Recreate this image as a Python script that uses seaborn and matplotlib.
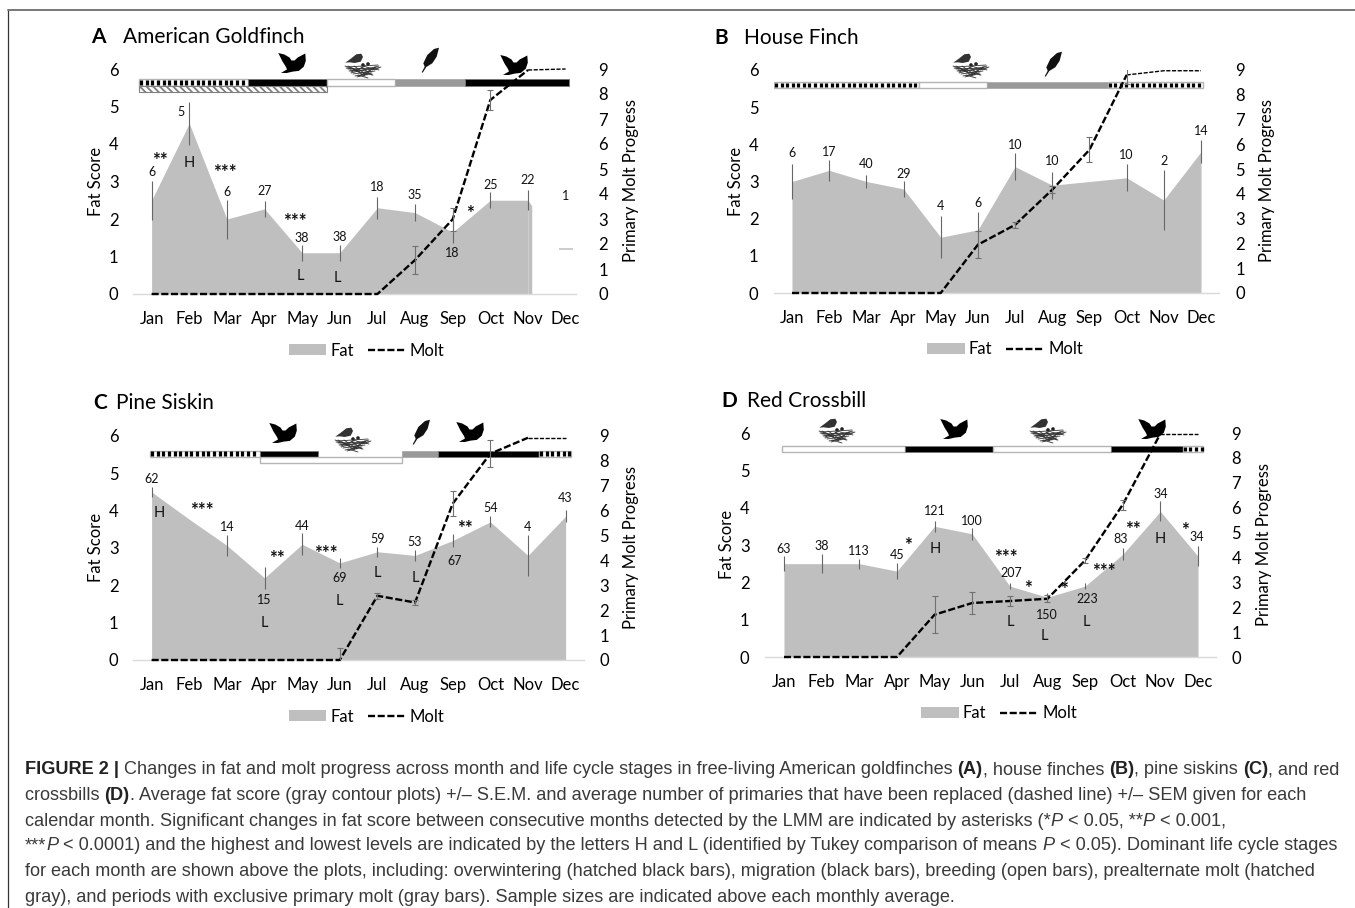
import numpy as np
import matplotlib
matplotlib.use('Agg')
import matplotlib.pyplot as plt
import seaborn as sns
from matplotlib.lines import Line2D
from matplotlib.patches import Patch, Polygon, Circle, Rectangle
from matplotlib.transforms import Affine2D

months = ['Jan', 'Feb', 'Mar', 'Apr', 'May', 'Jun', 'Jul', 'Aug', 'Sep', 'Oct', 'Nov', 'Dec']
nan = float('nan')

# A - American Goldfinch
fat_a = [2.5, 4.55, 2.0, 2.27, 1.1, 1.1, 2.3, 2.17, 1.65, 2.5, 2.5, nan]
fat_err_a = [0.52, 0.58, 0.52, 0.22, 0.21, 0.21, 0.3, 0.22, 0.3, 0.21, 0.27, nan]
molt_a = [0, 0, 0, 0, 0, 0, 0, 1.36, 2.99, 7.76, 8.96, 9.0]
molt_err_a = [nan, nan, nan, nan, nan, nan, nan, 0.55, 0.45, 0.41, nan, nan]
n_a = ['6', '5', '6', '27', '38', '38', '18', '35', '18', '25', '22', '1']
n_x_a = [0, 0.77, 2, 3, 4, 5, 6, 7, 8, 9, 10, 11]
n_y_a = [3.24, 4.86, 2.72, 2.75, 1.5, 1.52, 2.86, 2.64, 1.09, 2.9, 3.04, 2.6]
stars_a = ['**', '***', '***', '*']
stars_x_a = [0.22, 1.95, 3.8, 8.45]
stars_y_a = [3.69, 3.35, 2.05, 2.26]
letters_a = ['H', 'L', 'L']
letters_x_a = [1, 3.95, 4.93]
letters_y_a = [3.5, 0.47, 0.44]
stages_a = ['hatch', 'black', 'open', 'gray', 'black']
edges_a = [-0.33, 2.56, 4.67, 6.46, 8.34, 11.09]

# B - House Finch
fat_b = [3.0, 3.3, 3.0, 2.8, 1.5, 1.7, 3.4, 2.9, 3.0, 3.1, 2.5, 3.8]
fat_err_b = [0.47, 0.28, 0.17, 0.21, 0.56, 0.47, 0.36, 0.36, nan, 0.36, 0.81, 0.31]
molt_b = [0, 0, 0, 0, 0, 1.95, 2.75, 4.17, 5.78, 8.8, 8.97, 8.97]
molt_err_b = [nan, nan, nan, nan, nan, 0.54, 0.12, 0.15, 0.5, 0.36, nan, nan]
n_b = ['6', '17', '40', '29', '4', '6', '10', '10', '10', '2', '14']
n_x_b = [0, 1, 2, 3, 4, 5, 6, 7, 9, 10, 11]
n_y_b = [3.76, 3.79, 3.46, 3.2, 2.33, 2.43, 3.98, 3.56, 3.7, 3.56, 4.35]
stages_b = ['hatch', 'open', 'gray', 'hatch']
edges_b = [-0.48, 3.42, 5.24, 8.49, 11.05]

# C - Pine Siskin
fat_c = [4.5, 3.77, 3.07, 2.2, 3.1, 2.6, 2.9, 2.8, 3.2, 3.7, 2.8, 3.85]
fat_err_c = [0.14, nan, 0.29, 0.29, 0.29, 0.13, 0.13, 0.15, 0.18, 0.15, 0.56, 0.16]
molt_c = [0, 0, 0, 0, 0, 0, 2.58, 2.31, 6.28, 8.29, 8.93, 8.93]
molt_err_c = [nan, nan, nan, nan, nan, 0.5, 0.12, 0.12, 0.51, 0.54, nan, nan]
n_c = ['62', '14', '15', '44', '69', '59', '53', '67', '54', '4', '43']
n_x_c = [0, 2, 3, 4, 5, 6, 7, 8.05, 9, 10, 11]
n_y_c = [4.84, 3.57, 1.6, 3.58, 2.2, 3.23, 3.15, 2.66, 4.06, 3.57, 4.35]
stars_c = ['***', '**', '***', '**']
stars_x_c = [1.33, 3.33, 4.64, 8.33]
stars_y_c = [4.12, 2.85, 2.97, 3.63]
letters_c = ['H', 'L', 'L', 'L', 'L']
letters_x_c = [0.21, 3, 5, 6, 7]
letters_y_c = [3.94, 1.0, 1.58, 2.33, 2.2]
stages_c = ['hatch', 'black', None, 'gray', 'black', 'hatch']
edges_c = [-0.04, 2.88, 4.43, 6.65, 7.61, 10.3, 11.14]

# D - Red Crossbill
fat_d = [2.5, 2.5, 2.5, 2.3, 3.5, 3.3, 1.9, 1.6, 1.9, 2.75, 3.9, 2.7]
fat_err_d = [0.2, 0.25, 0.13, 0.22, 0.14, 0.16, 0.09, 0.12, 0.09, 0.16, 0.27, 0.27]
molt_d = [0, 0, 0, 0, 1.7, 2.17, 2.25, 2.34, 3.88, 6.12, 8.97, 8.97]
molt_err_d = [nan, nan, nan, nan, 0.74, 0.45, 0.19, 0.15, 0.1, 0.2, nan, nan]
n_d = ['63', '38', '113', '45', '121', '100', '207', '150', '223', '83', '34', '34']
n_x_d = [0, 1, 2, 3, 4, 5, 6.05, 6.99, 8.05, 8.94, 10, 10.98]
n_y_d = [2.9, 2.96, 2.84, 2.72, 3.9, 3.64, 2.26, 1.13, 1.56, 3.15, 4.37, 3.21]
stars_d = ['*', '***', '*', '*', '***', '**', '*']
stars_x_d = [3.29, 5.89, 6.48, 7.44, 8.5, 9.28, 10.65]
stars_y_d = [3.1, 2.79, 1.95, 1.92, 2.41, 3.54, 3.5]
letters_d = ['H', 'L', 'L', 'L', 'H']
letters_x_d = [4.02, 6.02, 6.93, 8.03, 10]
letters_y_d = [2.9, 0.94, 0.56, 0.94, 3.15]
stages_d = ['open', 'black', 'open', 'black', 'hatch']
edges_d = [-0.06, 3.21, 5.55, 8.68, 10.6, 11.14]

caption = [
    [('FIGURE 2 |', 'b'), (' Changes in fat and molt progress across month and life cycle stages in free-living American goldfinches ', ''),
     ('(A)', 'b'), (', house finches ', ''), ('(B)', 'b'), (', pine siskins ', ''), ('(C)', 'b'), (', and red', '')],
    [('crossbills ', ''), ('(D)', 'b'), ('. Average fat score (gray contour plots) +/\u2013 S.E.M. and average number of primaries that have been replaced (dashed line) +/\u2013 SEM given for each', '')],
    [('calendar month. Significant changes in fat score between consecutive months detected by the LMM are indicated by asterisks (*', ''),
     ('P', 'i'), (' < 0.05, **', ''), ('P', 'i'), (' < 0.001,', '')],
    [('***', ''), ('P', 'i'), (' < 0.0001) and the highest and lowest levels are indicated by the letters H and L (identified by Tukey comparison of means ', ''),
     ('P', 'i'), (' < 0.05). Dominant life cycle stages', '')],
    [('for each month are shown above the plots, including: overwintering (hatched black bars), migration (black bars), breeding (open bars), prealternate molt (hatched', '')],
    [('gray), and periods with exclusive primary molt (gray bars). Sample sizes are indicated above each monthly average.', '')],
]

BIRD = [(-13.7, -10), (-7.7, -8.5), (-2.5, -5.5), (-0.5, -2.5), (2.5, -2.5), (5.7, -5.5), (13.3, -9.5), (13.8, -2.3), (11.8, 3.7),
        (6.8, 7.9), (0.7, 8.6), (-5.3, 10), (-11, 9.9), (-5, 6.5), (-6, 4), (-9.5, -1.5)]
FEATHER = [(9, -12.3), (4, -11), (-2.7, -5), (-6.7, 3.3), (-5.3, 6.7), (-8.3, 12.3), (-7.3, 12.7), (-3.7, 7),
           (2.3, 3.3), (6.7, -3.3)]
NEST_BIRD = [(-17.7, -3.3), (-11.7, -7.7), (-6.7, -11.7), (-1.7, -12.3), (0, -9), (-2.3, -4.3), (-8.3, -3), (-13.3, -3.7)]
NEST_LINES = [(-16, 1, 15, -1), (-15, 3, 16, 2), (-14, 5, 14, 3), (-17, 2, 8, 6), (-12, 7, 16, 0), (-10, 8, 12, 5),
              (-13, 4, 10, 9), (-8, 10, 9, 7), (-6, 11, 6, 8), (-5, 9, 5, 12), (-15, 0, -3, 6), (3, 1, 16, 4),
              (-11, 2, 2, 10), (12, 1, 1, 9), (-18, 0, -9, 3), (18, 1, 9, 4), (-12, 6, 3, 0), (-4, 10, 13, 1),
              (-9, 0, 4, 9), (-2, 1, 9, 9)]

sns.set_theme(style='white')
plt.rcParams['font.family'] = ['Lato', 'DejaVu Sans']
plt.rcParams['hatch.linewidth'] = 1.3

fig = plt.figure(figsize=(13.55, 9.08), dpi=100)
# pixel coordinates of the picture, y going down
px = Affine2D().scale(1 / 1355, -1 / 908).translate(0, 1) + fig.transFigure

GRAY = '#bfbfbf'
DASH = (0, (3, 1.1))


def draw_icon(kind, cx, cy):
    at = Affine2D().translate(cx, cy) + px
    if kind == 'bird':
        fig.add_artist(Polygon(BIRD, closed=True, fc='black', ec='none', transform=at))
    elif kind == 'feather':
        fig.add_artist(Polygon(FEATHER, closed=True, fc='#111111', ec='none', transform=at))
    else:
        for x0, y0, x1, y1 in NEST_LINES:
            fig.add_artist(Line2D([x0, x1], [y0, y1], color='#333333', lw=0.6, transform=at))
        fig.add_artist(Polygon(NEST_BIRD, closed=True, fc='#333333', ec='none', transform=at))
        fig.add_artist(Circle((0, -1), 1.8, fc='#222222', ec='none', transform=at))
        fig.add_artist(Circle((5, -2), 1.8, fc='#222222', ec='none', transform=at))


def draw_stage(ax, kind, x0, x1, y0, y1):
    if kind is None:
        return
    if kind == 'black':
        ax.add_patch(Rectangle((x0, y0), x1 - x0, y1 - y0, fc='black', ec='#777777', lw=0.6, zorder=3))
    elif kind == 'gray':
        ax.add_patch(Rectangle((x0, y0), x1 - x0, y1 - y0, fc='#999999', ec='#aaaaaa', lw=0.6, zorder=3))
    elif kind == 'open':
        ax.add_patch(Rectangle((x0, y0), x1 - x0, y1 - y0, fc='white', ec='#b5b5b5', lw=1.0, zorder=3))
    elif kind == 'hatchgray':
        ax.add_patch(Rectangle((x0, y0), x1 - x0, y1 - y0, fc='white', ec='#808080', lw=0.8, hatch='\\\\\\\\\\', zorder=3))
    else:
        ax.add_patch(Rectangle((x0, y0), x1 - x0, y1 - y0, fc='white', ec='#b5b5b5', lw=1.0, zorder=3))
        ax.vlines(np.arange(x0 + 0.05, x1 - 0.03, 0.15), y0 + 0.025, y1 - 0.025, color='black', lw=2.3, zorder=4)


def draw_panel(box, jan, dec, letter, letter_x, title, title_x, title_y, tick_l, tick_r, lab_l, lab_r, leg_x,
               fat, fat_err, molt, molt_err, n, n_x, n_y, stars=(), stars_x=(), stars_y=(),
               letters=(), letters_x=(), letters_y=(), thin_from=10):
    left, right, y6, y0 = box
    ax = fig.add_axes([left / 1355, 1 - y0 / 908, (right - left) / 1355, (y0 - y6) / 908])
    step = (dec - jan) / 11
    x = np.arange(12)
    fat = np.array(fat)
    ok = ~np.isnan(fat)

    ax.fill_between(x[ok], 0, fat[ok], color=GRAY, lw=0, zorder=1)
    ax.errorbar(x, fat, yerr=fat_err, fmt='none', ecolor='#666666', elinewidth=0.8, capsize=0, zorder=2)
    ax.set_xlim((left - jan) / step, (right - jan) / step)
    ax.set_ylim(0, 6)
    ax.set_yticks(range(7))
    ax.set_xticks(x)
    ax.set_xticklabels(months)
    ax.tick_params(axis='x', length=0, pad=12, labelsize=12, colors='black')
    ax.tick_params(axis='y', length=0, pad=(left - tick_l - 4.5) * 0.72, labelsize=12, colors='black')
    ax.set_ylabel('Fat Score', fontsize=12, color='black', va='center')
    ax.yaxis.set_label_coords(lab_l, (y0 + y6) / 2 - 0.5, transform=px)
    ax.grid(False)

    ax2 = ax.twinx()
    ax2.set_ylim(0, 9)
    sns.lineplot(x=x[:thin_from + 1], y=molt[:thin_from + 1], ax=ax2, color='black', lw=1.7, linestyle=DASH, errorbar=None)
    sns.lineplot(x=x[thin_from:], y=molt[thin_from:], ax=ax2, color='black', lw=1.0, linestyle=DASH, errorbar=None)
    for line in ax2.lines:
        line.set_clip_on(False)
    ax2.errorbar(x, molt, yerr=molt_err, fmt='none', ecolor='#707070', elinewidth=0.8, capsize=2.2, capthick=0.8)
    ax2.set_yticks(range(10))
    ax2.tick_params(axis='y', length=0, pad=(tick_r - right - 4.5) * 0.72, labelsize=12, colors='black')
    ax2.set_ylabel('Primary Molt Progress', fontsize=12, color='black', rotation=90, va='center')
    ax2.yaxis.set_label_coords(lab_r - 2, (y0 + y6) / 2 - 0.5, transform=px)
    ax2.grid(False)

    sns.despine(ax=ax, left=True, right=True, top=True)
    sns.despine(ax=ax2, left=True, right=True, top=True)
    ax.spines['bottom'].set_color('#d9d9d9')
    ax.spines['bottom'].set_linewidth(1.0)
    ax2.spines['bottom'].set_visible(False)

    for label, lx, ly in zip(n, n_x, n_y):
        ax.text(lx, ly, label, fontsize=9, ha='center', va='center', color='#111111', zorder=5)
    for label, lx, ly in zip(stars, stars_x, stars_y):
        ax.text(lx, ly - 0.12, label, fontsize=13.5, fontweight='bold', ha='center', va='center', color='#111111', zorder=5)
    for label, lx, ly in zip(letters, letters_x, letters_y):
        ax.text(lx, ly, label, fontsize=10.5, ha='center', va='center', color='#111111', zorder=5)

    fig.text(letter_x, title_y, letter, transform=px, fontsize=15, fontweight='bold', ha='center', va='center', color='black')
    fig.text(title_x, title_y, title, transform=px, fontsize=15, ha='left', va='center', color='black')

    handles = [Patch(fc=GRAY, ec='none', label='Fat'),
               Line2D([0], [0], color='black', lw=1.7, linestyle=DASH, label='Molt')]
    ax.legend(handles=handles, ncol=2, frameon=False, loc='center', bbox_to_anchor=(leg_x, y0 + 56.5),
              bbox_transform=px, fontsize=12, handlelength=2.25, handleheight=0.58, handletextpad=0.25,
              columnspacing=0.85, labelcolor='black')
    return ax


def draw_stages(ax, stages, edges, y_top, y_mid):
    for kind, x0, x1 in zip(stages, edges[:-1], edges[1:]):
        draw_stage(ax, kind, x0, x1, y_mid, y_top)


ax_a = draw_panel((133, 576, 69, 294), 151.6, 565.6, 'A', 98, 'American Goldfinch', 123, 37, 114, 603, 96, 633, 366.5,
                  fat_a, fat_err_a, np.array(molt_a), molt_err_a, n_a, n_x_a, n_y_a,
                  stars_a, stars_x_a, stars_y_a, letters_a, letters_x_a, letters_y_a, thin_from=10)
ax_a.fill_between([10, 10.1], 0, [2.5, 2.35], color=GRAY, lw=0, zorder=1)
ax_a.hlines(1.2, 10.83, 11.2, color='#c4c4c4', lw=1.2)
draw_stages(ax_a, stages_a, edges_a, 5.73, 5.56)
draw_stage(ax_a, 'hatchgray', edges_a[0], edges_a[2], 5.38, 5.56)

ax_b = draw_panel((774, 1219, 70, 293), 792, 1201, 'B', 721, 'House Finch', 744, 38, 754, 1240, 736, 1269, 1005,
                  fat_b, fat_err_b, np.array(molt_b), molt_err_b, n_b, n_x_b, n_y_b, thin_from=9)
draw_stages(ax_b, stages_b, edges_b, 5.68, 5.52)

ax_c = draw_panel((133, 584, 436, 660), 151.6, 565.6, 'C', 100, 'Pine Siskin', 116, 403, 114, 604, 96, 633, 366.5,
                  fat_c, fat_err_c, np.array(molt_c), molt_err_c, n_c, n_x_c, n_y_c,
                  stars_c, stars_x_c, stars_y_c, letters_c, letters_x_c, letters_y_c, thin_from=10)
draw_stages(ax_c, stages_c, edges_c, 5.61, 5.45)
draw_stage(ax_c, 'open', edges_c[1], edges_c[3], 5.29, 5.45)

ax_d = draw_panel((765, 1216, 433, 657), 784, 1198, 'D', 729, 'Red Crossbill', 747, 401, 745, 1236, 727, 1266, 999,
                  fat_d, fat_err_d, np.array(molt_d), molt_err_d, n_d, n_x_d, n_y_d,
                  stars_d, stars_x_d, stars_y_d, letters_d, letters_x_d, letters_y_d, thin_from=10)
draw_stages(ax_d, stages_d, edges_d, 5.66, 5.5)

for kind, cx, cy in [('bird', 292, 63), ('nest', 363, 66), ('feather', 430, 60), ('bird', 514, 65),
                     ('nest', 971, 66), ('feather', 1053, 64),
                     ('bird', 283, 433), ('nest', 353, 440), ('feather', 421, 432), ('bird', 470, 432),
                     ('nest', 837, 431), ('bird', 954, 429), ('nest', 1048, 431), ('bird', 1152, 429)]:
    draw_icon(kind, cx, cy)

# frame of the figure box
fig.add_artist(Line2D([8, 8], [10, 908], color='#333333', lw=0.9, transform=px))
fig.add_artist(Line2D([8, 1355], [10, 10], color='#777777', lw=1.4, transform=px))

# caption, run by run because of the bold and italic bits
renderer = fig.canvas.get_renderer()
cap_y = [770, 795, 821, 846, 871, 897]
for runs, y in zip(caption, cap_y):
    x = 25
    for text, style in runs:
        t = fig.text(x, y, text, transform=px, family=['Liberation Sans'], fontsize=13.05, va='center', ha='left',
                     color='#222222' if style == 'b' else '#3a3a3a',
                     fontweight='bold' if style == 'b' else 'normal',
                     fontstyle='italic' if style == 'i' else 'normal')
        x += t.get_window_extent(renderer).width

fig.savefig('out.png', dpi=100, facecolor='white')
